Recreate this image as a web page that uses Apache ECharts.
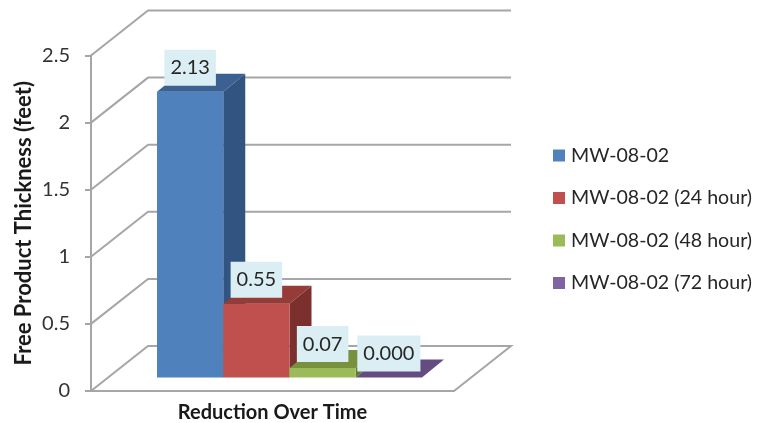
<!DOCTYPE html>
<html>
<head>
<meta charset="utf-8">
<style>html,body{margin:0;padding:0;background:#fff}#chart{width:767px;height:423px}</style>
<script src="https://cdn.jsdelivr.net/npm/echarts@6/dist/echarts.min.js"></script>
</head>
<body>
<div id="chart"></div>
<script>
const categories = ['Reduction Over Time'];
const seriesNames = ['MW-08-02', 'MW-08-02 (24 hour)', 'MW-08-02 (48 hour)', 'MW-08-02 (72 hour)'];
const thickness = [2.13, 0.55, 0.07, 0];
const valueLabels = ['2.13', '0.55', '0.07', '0.000'];
const yTicks = [0, 0.5, 1, 1.5, 2, 2.5];
const frontColors = ['#4f81bd', '#c0504d', '#9bbb59', '#8064a2'];
const topColors = ['#3b6192', '#953c39', '#78913f', '#644c80'];
const sideColors = ['#325480', '#7b302e', '#627a38', '#523d6b'];

// Oblique projection: how far the back wall sits from the front plane, and
// how far the bars sit inside the floor and extend into it.
const WALL_DX = 57, WALL_DY = 45;
const INSET_DX = 17, INSET_DY = 13.5;
const BAR_DX = 22, BAR_DY = 18;
const BARS_PER_BAND = 5.48;
const GRID_COLOR = '#a6a6a6';
const FONT = 'Lato';

function poly(points, fill) {
  return { type: 'polygon', shape: { points }, style: { fill } };
}

function renderWall(params, api) {
  const y = api.coord([0, api.value(1)])[1];
  const cs = params.coordSys;
  const x0 = cs.x, x1 = cs.x + WALL_DX, x2 = cs.x + cs.width + WALL_DX;
  const points = [[x0, y], [x1, y - WALL_DY], [x2, y - WALL_DY]];
  if (api.value(1) === 0) points.push([cs.x + cs.width, y], [x0, y]);
  return {
    type: 'polyline',
    shape: { points },
    style: { stroke: GRID_COLOR, lineWidth: 2, fill: null }
  };
}

function barBox(api, index) {
  const center = api.coord([api.value(0), api.value(1)]);
  const base = api.coord([api.value(0), 0]);
  const band = api.size([1, 0])[0];
  const w = band / BARS_PER_BAND;
  const left = center[0] + INSET_DX - 2 * w + index * w;
  return { left, right: left + w, top: center[1] - INSET_DY, bottom: base[1] - INSET_DY };
}

function renderBar(index) {
  return function (params, api) {
    const b = barBox(api, index);
    const children = [];
    if (b.bottom - b.top > 0) {
      children.push(poly([[b.right, b.top], [b.right + BAR_DX, b.top - BAR_DY],
        [b.right + BAR_DX, b.bottom - BAR_DY], [b.right, b.bottom]], sideColors[index]));
      children.push({
        type: 'rect',
        shape: { x: b.left, y: b.top, width: b.right - b.left, height: b.bottom - b.top },
        style: { fill: frontColors[index] }
      });
    }
    children.push(poly([[b.left, b.top], [b.right, b.top],
      [b.right + BAR_DX, b.top - BAR_DY], [b.left + BAR_DX, b.top - BAR_DY]], topColors[index]));
    return { type: 'group', children };
  };
}

function renderValueLabel(params, api) {
  const index = params.dataIndex;
  const b = barBox(api, index);
  return {
    type: 'text',
    x: (b.left + b.right) / 2,
    y: b.top - 24,
    style: {
      text: valueLabels[index],
      font: '20px ' + FONT,
      fill: '#262626',
      align: 'center',
      verticalAlign: 'middle',
      backgroundColor: '#dbeef4',
      padding: [8, 6, 8, 6]
    }
  };
}

const chart = echarts.init(document.getElementById('chart'), null, { renderer: 'canvas' });

const barSeries = seriesNames.map((name, i) => ({
  type: 'custom',
  name,
  z: 3,
  itemStyle: { color: frontColors[i] },
  renderItem: renderBar(i),
  data: [[0, thickness[i]]]
}));

chart.setOption({
  animation: false,
  backgroundColor: '#ffffff',
  textStyle: { fontFamily: FONT },
  grid: { left: 91, top: 55.5, width: 363, height: 336.5 },
  legend: {
    orient: 'vertical',
    left: 553,
    top: 144.5,
    padding: 0,
    itemWidth: 12,
    itemHeight: 12,
    itemGap: 20.5,
    icon: 'rect',
    data: seriesNames,
    textStyle: { fontFamily: FONT, fontSize: 19.6, color: '#262626', lineHeight: 22, padding: [0, 0, 0, 1] }
  },
  xAxis: {
    type: 'category',
    data: categories,
    axisLine: { show: false },
    axisTick: { show: false },
    axisLabel: { margin: 12, fontFamily: FONT, fontSize: 20, fontWeight: 'bold', color: '#1a1a1a' }
  },
  yAxis: {
    type: 'value',
    min: 0,
    max: 2.5,
    interval: 0.5,
    name: 'Free Product Thickness (feet)',
    nameLocation: 'middle',
    nameGap: 56,
    nameTextStyle: { fontFamily: FONT, fontSize: 22, fontWeight: 'bold', color: '#1a1a1a' },
    axisLine: { show: true, onZero: false, lineStyle: { color: GRID_COLOR, width: 2 } },
    axisTick: { show: true, length: 6, lineStyle: { color: GRID_COLOR, width: 2 } },
    axisLabel: {
      margin: 21,
      fontFamily: FONT,
      fontSize: 20,
      color: '#333333',
      padding: [4, 0, 0, 0],
      formatter: v => String(v)
    },
    splitLine: { show: false }
  },
  series: [
    { type: 'custom', z: 1, silent: true, renderItem: renderWall, data: yTicks.map(t => [0, t]) },
    ...barSeries,
    {
      type: 'custom', z: 5, silent: true, renderItem: renderValueLabel,
      data: thickness.map(v => [0, v])
    }
  ]
});
</script>
</body>
</html>
